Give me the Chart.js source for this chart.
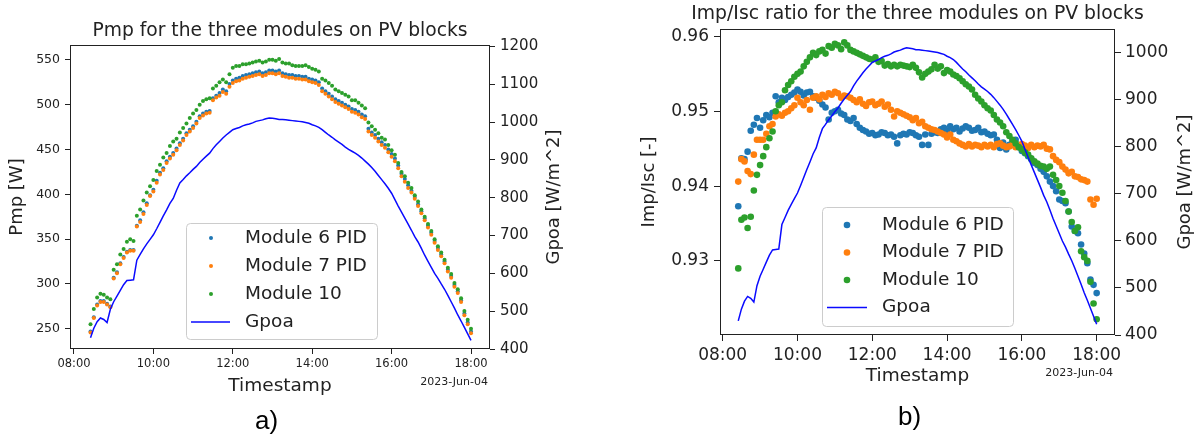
<!DOCTYPE html>
<html>
<head>
<meta charset="utf-8">
<script src="https://cdn.jsdelivr.net/npm/chart.js@4.4.1/dist/chart.umd.min.js"></script>
<style>
  html, body { margin: 0; padding: 0; background: #fff; }
  #page { position: relative; width: 1203px; height: 434px; overflow: hidden; }
  canvas { position: absolute; top: 0; }
  #chartA { left: 0; }
  #chartB { left: 600px; }
  .cap { position: absolute; font-family: "Liberation Sans", Arial, sans-serif; font-size: 26px; line-height: 26px; color: #000; }
</style>
</head>
<body>
<div id="page">
  <canvas id="chartA" width="600" height="434"></canvas>
  <canvas id="chartB" width="603" height="434"></canvas>
  <div class="cap" style="left:255px; top:407px;">a)</div>
  <div class="cap" style="left:898px; top:403px;">b)</div>
</div>
<script>
// sample times, 2023-06-04
const times = [
  "08:25","08:30","08:35","08:40","08:45","08:50","08:55",
  "09:00","09:05","09:10","09:15","09:20","09:25","09:30","09:35","09:40","09:45","09:50","09:55",
  "10:00","10:05","10:10","10:15","10:20","10:25","10:30","10:35","10:40","10:45","10:50","10:55",
  "11:00","11:05","11:10","11:15","11:20","11:25","11:30","11:35","11:40","11:45","11:50","11:55",
  "12:00","12:05","12:10","12:15","12:20","12:25","12:30","12:35","12:40","12:45","12:50","12:55",
  "13:00","13:05","13:10","13:15","13:20","13:25","13:30","13:35","13:40","13:45","13:50","13:55",
  "14:00","14:05","14:10","14:15","14:20","14:25","14:30","14:35","14:40","14:45","14:50","14:55",
  "15:00","15:05","15:10","15:15","15:20","15:25","15:30","15:35","15:40","15:45","15:50","15:55",
  "16:00","16:05","16:10","16:15","16:20","16:25","16:30","16:35","16:40","16:45","16:50","16:55",
  "17:00","17:05","17:10","17:15","17:20","17:25","17:30","17:35","17:40","17:45","17:50","17:55",
  "18:00"
];

const gpoa = [
  430,455,472,482,478,470,505,
  525,540,555,570,581,582,583,635,650,665,678,690,
  702,718,735,752,768,785,798,820,839,848,858,866,
  875,883,893,902,910,918,930,940,949,958,966,973,
  980,983,986,990,993,995,998,1002,1004,1006,1009,1011,
  1010,1009,1007,1007,1006,1005,1004,1003,1002,1001,999,997,
  993,990,986,980,973,966,960,953,947,941,934,928,
  923,918,912,905,897,889,880,870,859,848,837,825,
  812,795,778,762,746,730,714,697,683,666,648,632,
  616,600,587,572,558,542,525,508,490,474,457,440,
  423
];

const pmp6 = [
  247,263,277,281,281,278,275,
  307,313,323,330,336,338,338,365,371,380,390,399,
  405,415,424,429,437,442,446,451,457,462,468,472,
  476,481,487,490,492,493,507,510,513,517,515,523,
  527,529,530,532,533,534,535,536,537,535,536,538,
  538,537,538,535,534,533,533,532,532,531,531,529,
  528,527,525,518,515,512,509,506,504,502,500,498,
  495,494,492,489,487,473,469,466,462,458,455,450,
  445,440,432,423,417,410,404,397,389,381,373,365,
  357,348,340,333,325,316,309,299,292,282,267,257,
  247
];

const pmp7 = [
  246,262,276,280,280,277,274,
  306,312,322,329,335,337,337,364,369,378,388,398,
  403,413,422,427,435,440,444,449,455,460,466,470,
  474,479,485,488,490,491,505,508,510,514,512,520,
  524,526,527,529,530,531,532,533,534,532,533,535,
  535,534,535,532,531,530,530,529,529,528,528,526,
  525,524,522,515,512,509,506,503,501,499,497,495,
  492,491,489,486,484,470,466,463,459,455,452,447,
  442,437,429,420,414,407,402,395,387,379,371,363,
  355,346,338,331,323,314,307,297,290,280,265,255,
  245
];

const pmp10 = [
  255,272,285,289,288,285,283,
  316,322,333,339,347,350,348,376,383,393,402,409,
  416,426,433,441,446,454,459,462,469,474,479,485,
  490,494,500,504,506,507,518,521,525,528,525,534,
  541,543,543,545,545,546,547,548,549,547,548,550,
  550,549,551,547,546,546,544,543,543,543,544,542,
  540,539,537,529,527,524,521,517,515,513,511,509,
  505,505,502,499,496,480,476,472,468,463,461,455,
  449,444,435,425,420,413,407,399,392,383,375,367,
  359,350,342,335,327,318,311,301,294,284,270,260,
  250
];

const ratio6 = [
  0.9373,0.9437,0.9436,0.9446,0.9474,0.9482,0.9491,
  0.9478,0.9488,0.9495,0.9492,0.9498,0.9520,0.9512,0.9518,0.9515,0.9519,0.9522,0.9525,
  0.9529,0.9526,0.9521,0.9525,0.9526,0.9520,0.9518,0.9514,0.9509,0.9505,0.9489,0.9498,
  0.9500,0.9502,0.9497,0.9495,0.9489,0.9487,0.9491,0.9483,0.9478,0.9475,0.9473,0.9470,
  0.9471,0.9468,0.9469,0.9472,0.9471,0.9468,0.9469,0.9466,0.9457,0.9468,0.9470,0.9469,
  0.9472,0.9471,0.9468,0.9466,0.9455,0.9469,0.9455,0.9470,0.9472,0.9471,0.9476,0.9478,
  0.9474,0.9480,0.9476,0.9478,0.9473,0.9477,0.9480,0.9478,0.9474,0.9475,0.9478,0.9472,
  0.9473,0.9470,0.9468,0.9469,0.9462,0.9451,0.9458,0.9449,0.9455,0.9460,0.9462,0.9452,
  0.9447,0.9444,0.9440,0.9436,0.9431,0.9428,0.9423,0.9419,0.9413,0.9406,0.9400,0.9393,
  0.9382,0.9380,0.9377,0.9366,0.9346,0.9340,0.9337,0.9322,0.9310,0.9297,0.9275,0.9268,
  0.9257
];

const ratio7 = [
  0.9406,0.9436,0.9433,0.9420,0.9416,0.9442,0.9462,
  0.9462,0.9462,0.9470,0.9480,0.9483,0.9493,0.9496,0.9494,0.9498,0.9500,0.9504,0.9508,
  0.9518,0.9512,0.9508,0.9515,0.9502,0.9518,0.9520,0.9516,0.9522,0.9519,0.9524,0.9522,
  0.9526,0.9524,0.9518,0.9521,0.9520,0.9518,0.9515,0.9512,0.9516,0.9510,0.9507,0.9512,
  0.9513,0.9508,0.9510,0.9513,0.9506,0.9509,0.9502,0.9493,0.9500,0.9498,0.9496,0.9494,
  0.9492,0.9488,0.9491,0.9484,0.9486,0.9480,0.9478,0.9476,0.9475,0.9473,0.9471,0.9469,
  0.9465,0.9469,0.9462,0.9460,0.9457,0.9455,0.9453,0.9456,0.9453,0.9455,0.9454,0.9452,
  0.9455,0.9453,0.9455,0.9452,0.9456,0.9457,0.9454,0.9452,0.9453,0.9455,0.9452,0.9453,
  0.9456,0.9454,0.9451,0.9455,0.9452,0.9454,0.9453,0.9455,0.9450,0.9449,0.9440,0.9435,
  0.9432,0.9426,0.9422,0.9417,0.9419,0.9413,0.9412,0.9409,0.9408,0.9406,0.9382,0.9375,
  0.9383
];

const ratio10 = [
  0.9290,0.9355,0.9358,0.9344,0.9359,0.9394,0.9415,
  0.9428,0.9440,0.9452,0.9464,0.9473,0.9500,0.9508,0.9512,0.9528,0.9535,0.9540,0.9546,
  0.9550,0.9553,0.9560,0.9566,0.9572,0.9578,0.9575,0.9580,0.9582,0.9577,0.9587,0.9585,
  0.9590,0.9588,0.9583,0.9592,0.9588,0.9582,0.9580,0.9578,0.9576,0.9574,0.9572,0.9570,
  0.9569,0.9572,0.9566,0.9567,0.9561,0.9563,0.9560,0.9562,0.9560,0.9562,0.9561,0.9560,
  0.9559,0.9562,0.9558,0.9552,0.9545,0.9550,0.9553,0.9556,0.9562,0.9557,0.9560,0.9551,
  0.9555,0.9553,0.9549,0.9547,0.9544,0.9540,0.9536,0.9533,0.9529,0.9522,0.9517,0.9513,
  0.9508,0.9504,0.9501,0.9495,0.9489,0.9485,0.9480,0.9472,0.9467,0.9462,0.9457,0.9452,
  0.9449,0.9445,0.9442,0.9437,0.9433,0.9430,0.9427,0.9426,0.9423,0.9426,0.9415,0.9408,
  0.9400,0.9391,0.9380,0.9366,0.9352,0.9340,0.9345,0.9313,0.9305,0.9300,0.9272,0.9243,
  0.9222
];

const moduleNames = ["Module 6 PID", "Module 7 PID", "Module 10"];
const timeTicks = ["08:00", "10:00", "12:00", "14:00", "16:00", "18:00"];
const pmpTicks = [250, 300, 350, 400, 450, 500, 550];
const gpoaTicksA = [400, 500, 600, 700, 800, 900, 1000, 1100, 1200];
const ratioTicks = [0.93, 0.94, 0.95, 0.96];
const gpoaTicksB = [400, 500, 600, 700, 800, 900, 1000];

const colors = ["#1f77b4", "#ff7f0e", "#2ca02c"];
const lineColor = "#0a0aff";
const ink = "#222";
const FONT = '"DejaVu Sans", sans-serif';

Chart.defaults.font.family = FONT;
Chart.defaults.color = ink;

const toMin = s => { const [h, m] = s.split(":").map(Number); return h * 60 + m; };
const toLabel = v => String(Math.floor(v / 60)).padStart(2, "0") + ":" + String(v % 60).padStart(2, "0");
const xs = times.map(toMin);
const pts = ys => ys.map((y, i) => ({ x: xs[i], y }));

function roundRect(ctx, x, y, w, h, r) {
  ctx.beginPath();
  ctx.moveTo(x + r, y);
  ctx.arcTo(x + w, y, x + w, y + h, r);
  ctx.arcTo(x + w, y + h, x, y + h, r);
  ctx.arcTo(x, y + h, x, y, r);
  ctx.arcTo(x, y, x + w, y, r);
  ctx.closePath();
}

// frame, title, right axis title, date label and legend (matplotlib look)
const extras = {
  id: "extras",
  afterDraw(chart, args, o) {
    const { ctx, chartArea: a } = chart;
    ctx.save();
    ctx.strokeStyle = ink;
    ctx.lineWidth = 1;
    ctx.strokeRect(Math.round(a.left) + 0.5, Math.round(a.top) + 0.5,
      Math.round(a.right - a.left) - 1, Math.round(a.bottom - a.top) - 1);

    ctx.fillStyle = ink;
    ctx.textAlign = "center";
    ctx.textBaseline = "middle";
    ctx.font = o.titleSize + "px " + FONT;
    ctx.fillText(o.title, (a.left + a.right) / 2, o.titleY);

    ctx.save();
    ctx.translate(o.rightTitleX, (a.top + a.bottom) / 2);
    ctx.rotate(-Math.PI / 2);
    ctx.font = o.labelSize + "px " + FONT;
    ctx.fillText(o.rightTitle, 0, 0);
    ctx.restore();

    ctx.textAlign = "right";
    ctx.font = o.dateSize + "px " + FONT;
    ctx.fillText(o.date, o.dateX, o.dateY);

    const L = o.legend;
    roundRect(ctx, L.x + 0.5, L.y + 0.5, L.w, L.h, 4);
    ctx.fillStyle = "rgba(255,255,255,0.8)";
    ctx.fill();
    ctx.strokeStyle = "#cccccc";
    ctx.stroke();
    ctx.font = L.size + "px " + FONT;
    ctx.textAlign = "left";
    chart.data.datasets.forEach((ds, i) => {
      const y = L.rowY + i * L.gap;
      if (ds.showLine) {
        ctx.strokeStyle = ds.borderColor;
        ctx.lineWidth = ds.borderWidth;
        ctx.beginPath();
        ctx.moveTo(L.lineX0, y);
        ctx.lineTo(L.lineX1, y);
        ctx.stroke();
      } else {
        ctx.fillStyle = ds.backgroundColor;
        ctx.beginPath();
        ctx.arc(L.markX, y, ds.pointRadius, 0, Math.PI * 2);
        ctx.fill();
      }
      ctx.fillStyle = ink;
      ctx.fillText(ds.label, L.textX, y);
    });
    ctx.restore();
  }
};

function axisTicks(values) {
  return s => { s.ticks = values.map(v => ({ value: v })); };
}

function buildChart(id, c) {
  const dots = c.series.map((ys, i) => ({
    label: moduleNames[i],
    data: pts(ys),
    yAxisID: "y",
    backgroundColor: colors[i],
    borderWidth: 0,
    pointRadius: c.dot,
    showLine: false,
    order: 3 - i
  }));
  const line = {
    label: "Gpoa",
    data: pts(gpoa),
    yAxisID: "y1",
    borderColor: lineColor,
    borderWidth: 1.5,
    pointRadius: 0,
    showLine: true,
    tension: 0,
    order: 0
  };
  const tickGrid = len => ({ display: true, drawOnChartArea: false, tickLength: len, tickColor: ink, lineWidth: 1 });

  return new Chart(document.getElementById(id), {
    type: "scatter",
    data: { datasets: [...dots, line] },
    plugins: [extras],
    options: {
      responsive: false,
      animation: false,
      events: [],
      devicePixelRatio: 1,
      layout: { padding: { top: c.top, left: 0, right: 0, bottom: 0 } },
      plugins: { legend: { display: false }, tooltip: { enabled: false }, extras: c.extras },
      scales: {
        x: {
          type: "linear", position: "bottom", min: c.xMin, max: c.xMax,
          afterBuildTicks: axisTicks(timeTicks.map(toMin)),
          afterFit: s => { s.height = c.xH; },
          ticks: { font: { size: c.xTickSize }, padding: c.xTickPad, maxRotation: 0, callback: v => toLabel(v) },
          grid: tickGrid(c.tick),
          border: { display: false },
          title: { display: true, text: "Timestamp", font: { size: 18.5 }, padding: { top: 0, bottom: c.xTitlePad } }
        },
        y: {
          type: "linear", position: "left", min: c.yMin, max: c.yMax,
          afterBuildTicks: axisTicks(c.yTicks),
          afterFit: s => { s.width = c.yW; },
          ticks: { font: { size: c.yTickSize }, padding: c.yTickPad, callback: c.yFmt },
          grid: tickGrid(c.tick),
          border: { display: false },
          title: { display: true, text: c.yTitle, font: { size: 18 }, padding: { top: c.yTitlePad, bottom: 0 } }
        },
        y1: {
          type: "linear", position: "right", min: 400, max: c.y1Max,
          afterBuildTicks: axisTicks(c.y1Ticks),
          afterFit: s => { s.width = c.y1W; },
          ticks: { font: { size: c.y1TickSize }, padding: c.y1TickPad, callback: v => String(v) },
          grid: tickGrid(c.tick),
          border: { display: false }
        }
      }
    }
  });
}

buildChart("chartA", {
  series: [pmp6, pmp7, pmp10], dot: 2,
  top: 45, tick: 5,
  xMin: 474, xMax: 1108.7, xH: 85, xTickSize: 11.5, xTickPad: 3, xTitlePad: 37,
  yMin: 227.5, yMax: 566.5, yTicks: pmpTicks, yW: 70, yTickSize: 12.5, yTickPad: 5,
  yFmt: v => String(v), yTitle: "Pmp [W]", yTitlePad: 6.5,
  y1Max: 1204, y1Ticks: gpoaTicksA, y1W: 110, y1TickSize: 15, y1TickPad: 5,
  extras: {
    title: "Pmp for the three modules on PV blocks", titleSize: 18.7, titleY: 31,
    rightTitle: "Gpoa [W/m^2]", rightTitleX: 554, labelSize: 18,
    date: "2023-Jun-04", dateSize: 11, dateX: 488, dateY: 382,
    legend: { x: 186, y: 223, w: 191, h: 116, rowY: 238, gap: 28, markX: 211,
              lineX0: 191, lineX1: 230, textX: 245, size: 18.5 }
  }
});

buildChart("chartB", {
  series: [ratio6, ratio7, ratio10], dot: 3.3,
  top: 29, tick: 6,
  xMin: 475.7, xMax: 1109.4, xH: 99, xTickSize: 17, xTickPad: 4, xTitlePad: 47,
  yMin: 0.9201, yMax: 0.96099, yTicks: ratioTicks, yW: 120, yTickSize: 17, yTickPad: 5,
  yFmt: v => v.toFixed(2), yTitle: "Imp/Isc [-]", yTitlePad: 38.5,
  y1Max: 1051, y1Ticks: gpoaTicksB, y1W: 88, y1TickSize: 17, y1TickPad: 4,
  extras: {
    title: "Imp/Isc ratio for the three modules on PV blocks", titleSize: 18.8, titleY: 14,
    rightTitle: "Gpoa [W/m^2]", rightTitleX: 585, labelSize: 18,
    date: "2023-Jun-04", dateSize: 11, dateX: 513, dateY: 373,
    legend: { x: 222, y: 207, w: 191, h: 119, rowY: 225, gap: 27.5, markX: 247,
              lineX0: 227, lineX1: 267, textX: 282, size: 18.5 }
  }
});
</script>
</body>
</html>
